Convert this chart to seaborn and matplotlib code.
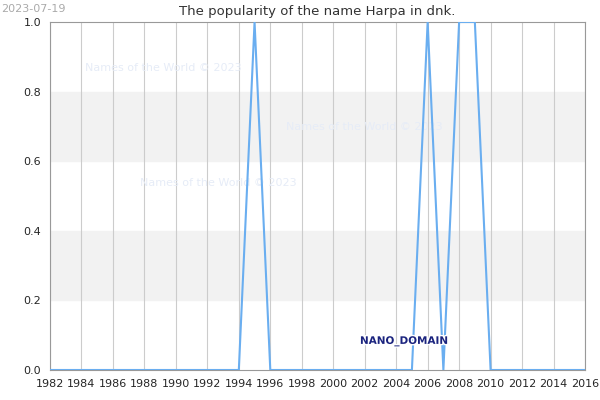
import matplotlib
matplotlib.use("Agg")
import matplotlib.pyplot as plt
import matplotlib.patheffects as pe
import seaborn as sns
import pandas as pd

years = list(range(1982, 2017))
spikes = {1995: 1.0, 2006: 1.0, 2008: 1.0, 2009: 1.0}
values = [spikes.get(y, 0.0) for y in years]
xticks = list(range(1982, 2017, 2))
yticks = [0.0, 0.2, 0.4, 0.6, 0.8, 1.0]

sns.set_style("white")
fig = plt.figure(figsize=(6, 4), dpi=100)
ax = fig.add_axes([50/600, 30/400, 535/600, 348/400])
ax.axhspan(0.2, 0.4, color="#f2f2f2", zorder=0)
ax.axhspan(0.6, 0.8, color="#f2f2f2", zorder=0)
for x in xticks:
    ax.axvline(x, color="#cccccc", lw=0.8, zorder=1)
df = pd.DataFrame({"year": years, "value": values})
sns.lineplot(data=df, x="year", y="value", ax=ax, color="#6aaef0", lw=1.5, zorder=3)
ax.set_xlim(1982, 2016)
ax.set_ylim(0, 1)
ax.set_xticks(xticks)
ax.set_yticks(yticks)
ax.set_yticklabels([f"{v:.1f}" for v in yticks])
ax.tick_params(labelsize=8, length=3)
ax.set_xlabel("")
ax.set_ylabel("")
for s in ax.spines.values():
    s.set_color("#999999")
ax.set_title("The popularity of the name Harpa in dnk.", fontsize=9.5, pad=5, color="#333333")
for (x, y) in [(1984.2, 0.86), (1997, 0.69), (1987.7, 0.53)]:
    ax.text(x, y, "Names of the World © 2023", fontsize=8, color="#e6ecf7", zorder=2)
ax.text(2001.7, 0.075, "NANO_DOMAIN", fontsize=7.5, color="#1a237e", fontweight="bold",
        path_effects=[pe.withStroke(linewidth=2, foreground="white")], zorder=4)
fig.text(0.002, 0.99, "2023-07-19", fontsize=8, color="#aaaaaa", va="top")
fig.savefig("out.png", dpi=100)
